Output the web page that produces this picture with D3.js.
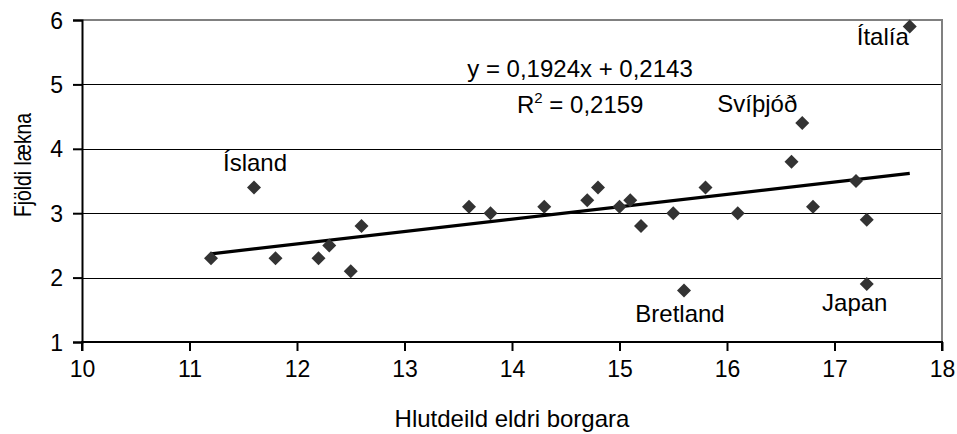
<!DOCTYPE html>
<html>
<head>
<meta charset="utf-8">
<script src="https://cdn.jsdelivr.net/npm/d3@7"></script>
<style>
  body { margin: 0; background: #fff; }
  text { font-family: "Liberation Sans", Arial, sans-serif; fill: #000; }
</style>
</head>
<body>
<script>
//scatter data: share of elderly vs number of doctors
var xValues = [11.2, 11.6, 11.8, 12.2, 12.3, 12.5, 12.6, 13.6, 13.8, 14.3, 14.7, 14.8, 15.0,
               15.1, 15.2, 15.5, 15.6, 15.8, 16.1, 16.6, 16.7, 16.8, 17.2, 17.3, 17.3, 17.7];
var yValues = [2.3, 3.4, 2.3, 2.3, 2.5, 2.1, 2.8, 3.1, 3.0, 3.1, 3.2, 3.4, 3.1,
               3.2, 2.8, 3.0, 1.8, 3.4, 3.0, 3.8, 4.4, 3.1, 3.5, 2.9, 1.9, 5.9];
var pointNames = ["", "Ísland", "", "", "", "", "", "", "", "", "", "", "",
                  "", "", "", "Bretland", "", "", "", "Svíþjóð", "", "", "", "Japan", "Ítalía"];
var xTicks = [10, 11, 12, 13, 14, 15, 16, 17, 18];
var yTicks = [1, 2, 3, 4, 5, 6];
var slope = 0.1924, intercept = 0.2143, rSquared = "0,2159";

window.onload = setChart();

function setChart(){
    var width = 957, height = 434;
    var left = 82, right = 942, top = 20, bottom = 342;

    var svg = d3.select("body").append("svg")
        .attr("width", width)
        .attr("height", height);

    var x = d3.scaleLinear().domain([10, 18]).range([left, right]);
    var y = d3.scaleLinear().domain([1, 6]).range([bottom, top]);

    //horizontal gridlines
    svg.selectAll(".grid")
        .data(yTicks.filter(function(d){ return d > 1 && d < 6; }))
        .enter().append("line")
        .attr("x1", left).attr("x2", right)
        .attr("y1", function(d){ return Math.round(y(d)) + 0.5; })
        .attr("y2", function(d){ return Math.round(y(d)) + 0.5; })
        .attr("stroke", "#000").attr("stroke-width", 1);

    //top and right border (grey)
    svg.append("path")
        .attr("d", "M" + left + "," + y(6) + "H" + right + "V" + bottom)
        .attr("fill", "none").attr("stroke", "#808080").attr("stroke-width", 2);

    //axes
    var xAxis = svg.append("g")
        .attr("transform", "translate(0," + bottom + ")")
        .call(d3.axisBottom(x).tickValues(xTicks).tickSize(9).tickPadding(10).tickFormat(d3.format("d")));
    var yAxis = svg.append("g")
        .attr("transform", "translate(" + left + ",0)")
        .call(d3.axisLeft(y).tickValues(yTicks).tickSize(9).tickPadding(10).tickFormat(d3.format("d")));

    [xAxis, yAxis].forEach(function(g){
        g.select(".domain").attr("stroke", "#000").attr("stroke-width", 2);
        g.selectAll(".tick line").attr("stroke", "#000").attr("stroke-width", 2);
        g.selectAll(".tick text")
            .style("font-family", "Liberation Sans, Arial, sans-serif")
            .style("font-size", "23px").attr("fill", "#000");
    });
    xAxis.select(".domain").attr("d", "M" + left + ",9V0H" + right + "V9");
    yAxis.selectAll(".tick text").attr("dy", "0.35em");

    //trend line
    var xExt = d3.extent(xValues);
    svg.append("line")
        .attr("x1", x(xExt[0])).attr("y1", y(slope * xExt[0] + intercept))
        .attr("x2", x(xExt[1])).attr("y2", y(slope * xExt[1] + intercept))
        .attr("stroke", "#000").attr("stroke-width", 3.2);

    //diamonds
    var points = xValues.map(function(v, i){ return {x: v, y: yValues[i], name: pointNames[i]}; });
    svg.selectAll(".pt")
        .data(points)
        .enter().append("path")
        .attr("class", "pt")
        .attr("d", "M0,-7L7,0L0,7L-7,0Z")
        .attr("transform", function(d){ return "translate(" + x(d.x) + "," + y(d.y) + ")"; })
        .attr("fill", "#333");

    //country labels
    var offsets = {
        "Ísland": [1, -16], "Bretland": [-4, 32], "Svíþjóð": [-45, -11],
        "Japan": [-12, 27], "Ítalía": [-27, 19]
    };
    svg.selectAll(".lbl")
        .data(points.filter(function(d){ return d.name; }))
        .enter().append("text")
        .attr("x", function(d){ return x(d.x) + offsets[d.name][0]; })
        .attr("y", function(d){ return y(d.y) + offsets[d.name][1]; })
        .attr("text-anchor", "middle")
        .style("font-size", "24px")
        .text(function(d){ return d.name; });

    //regression equation
    var fmt = function(v){ return d3.format(".4f")(v).replace(".", ","); };
    svg.append("text")
        .attr("x", 580).attr("y", 77)
        .attr("text-anchor", "middle")
        .style("font-size", "24px")
        .text("y = " + fmt(slope) + "x + " + fmt(intercept));
    var r2 = svg.append("text")
        .attr("x", 517).attr("y", 113)
        .style("font-size", "24px");
    r2.append("tspan").text("R");
    r2.append("tspan").attr("dy", -10).style("font-size", "15px").text("2");
    r2.append("tspan").attr("dy", 10).text(" = " + rSquared);

    //axis titles
    svg.append("text")
        .attr("x", (left + right) / 2).attr("y", 427)
        .attr("text-anchor", "middle")
        .style("font-size", "24px")
        .text("Hlutdeild eldri borgara");
    svg.append("text")
        .attr("transform", "translate(31,165) rotate(-90)")
        .attr("text-anchor", "middle")
        .style("font-size", "24px")
        .attr("textLength", 104).attr("lengthAdjust", "spacingAndGlyphs")
        .text("Fjöldi lækna");
}
</script>
</body>
</html>
